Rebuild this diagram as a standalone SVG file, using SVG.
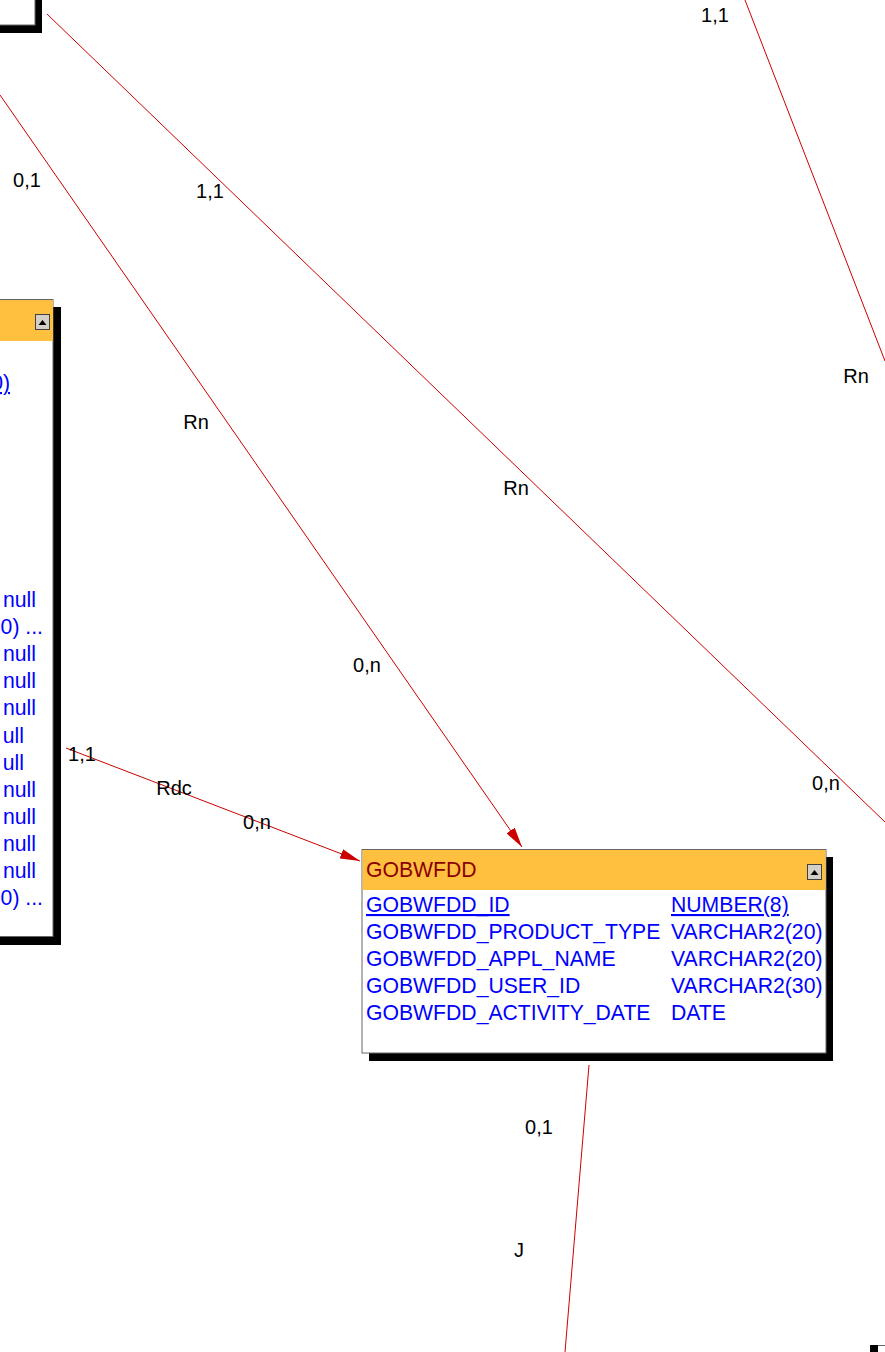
<svg xmlns="http://www.w3.org/2000/svg" width="885" height="1352" viewBox="0 0 885 1352">
<style>
.lbl{font-family:"Liberation Sans",Arial,sans-serif;font-size:20px;fill:#000;text-anchor:middle}
.t{font-family:"Liberation Sans",Arial,sans-serif;font-size:21.2px;fill:#0000ff}
.hdr{font-family:"Liberation Sans",Arial,sans-serif;font-size:21.2px;fill:#8b0000}
.u{text-decoration:underline}
.conn{stroke:#cc0000;stroke-width:1;fill:none}
.shadow{fill:#000}
.box{fill:#fff;stroke:#666;stroke-width:1}
.head{fill:#ffc040}
.btn{fill:#d4d0c8;stroke:#404040;stroke-width:1}
</style>
<defs>
<marker id="arr" viewBox="0 0 20 10" refX="20" refY="5" markerWidth="20" markerHeight="10" markerUnits="userSpaceOnUse" orient="auto">
<path d="M0,0 L20,5 L0,10 z" fill="#cc0000"/>
</marker>
</defs>

<g id="connectors">
<line class="conn" x1="47" y1="14" x2="885" y2="822"/>
<line class="conn" x1="0" y1="95" x2="522" y2="847" marker-end="url(#arr)"/>
<line class="conn" x1="66" y1="748" x2="360" y2="861" marker-end="url(#arr)"/>
<line class="conn" x1="745" y1="0" x2="885" y2="361"/>
<line class="conn" x1="589" y1="1065" x2="565" y2="1352"/>
<text class="lbl" x="715" y="22">1,1</text>
<text class="lbl" x="27" y="187">0,1</text>
<text class="lbl" x="210" y="198">1,1</text>
<text class="lbl" x="856" y="383">Rn</text>
<text class="lbl" x="196" y="429">Rn</text>
<text class="lbl" x="516" y="495">Rn</text>
<text class="lbl" x="367" y="672">0,n</text>
<text class="lbl" x="82" y="761">1,1</text>
<text class="lbl" x="826" y="790">0,n</text>
<text class="lbl" x="174" y="795">Rdc</text>
<text class="lbl" x="257" y="829">0,n</text>
<text class="lbl" x="539" y="1134">0,1</text>
<text class="lbl" x="519" y="1257">J</text>
</g>

<g id="node-topleft">
<rect class="shadow" x="-3" y="-3" width="45" height="36"/>
<rect class="box" x="-10" y="-10" width="45" height="35"/>
</g>

<g id="node-left">
<rect class="shadow" x="-10" y="307" width="71" height="638"/>
<rect class="box" x="-20" y="299.5" width="73" height="637"/>
<rect class="head" x="-20" y="300" width="73" height="41"/>
<rect class="btn" x="35.5" y="314.5" width="14" height="15"/>
<path d="M38.5,325 L42.5,320 L46.5,325 z" fill="#000"/>
<text class="t u" x="10" y="390" text-anchor="end">0)</text>
<text class="t" x="36" y="607" text-anchor="end">null</text>
<text class="t" x="43" y="634" text-anchor="end">0) ...</text>
<text class="t" x="36" y="661" text-anchor="end">null</text>
<text class="t" x="36" y="688" text-anchor="end">null</text>
<text class="t" x="36" y="715" text-anchor="end">null</text>
<text class="t" x="24" y="743" text-anchor="end">ull</text>
<text class="t" x="24" y="770" text-anchor="end">ull</text>
<text class="t" x="36" y="797" text-anchor="end">null</text>
<text class="t" x="36" y="824" text-anchor="end">null</text>
<text class="t" x="36" y="851" text-anchor="end">null</text>
<text class="t" x="36" y="878" text-anchor="end">null</text>
<text class="t" x="43" y="905" text-anchor="end">0) ...</text>
</g>

<g id="node-gobwfdd">
<rect class="shadow" x="369" y="857" width="464" height="204"/>
<rect class="box" x="362" y="849.5" width="464" height="203.5"/>
<rect class="head" x="362.5" y="850" width="463" height="40"/>
<rect class="btn" x="807.5" y="864.5" width="14" height="15"/>
<path d="M810.5,875 L814.5,870 L818.5,875 z" fill="#000"/>
<text class="hdr" x="366" y="877">GOBWFDD</text>
<text class="t u" x="366" y="912">GOBWFDD_ID</text>
<text class="t u" x="671" y="912">NUMBER(8)</text>
<text class="t" x="366" y="939">GOBWFDD_PRODUCT_TYPE</text>
<text class="t" x="671" y="939">VARCHAR2(20)</text>
<text class="t" x="366" y="966">GOBWFDD_APPL_NAME</text>
<text class="t" x="671" y="966">VARCHAR2(20)</text>
<text class="t" x="366" y="993">GOBWFDD_USER_ID</text>
<text class="t" x="671" y="993">VARCHAR2(30)</text>
<text class="t" x="366" y="1020">GOBWFDD_ACTIVITY_DATE</text>
<text class="t" x="671" y="1020">DATE</text>
</g>

<g id="node-bottomright">
<rect class="shadow" x="870" y="1345" width="8" height="7"/>
<line x1="878" y1="1345.5" x2="885" y2="1345.5" stroke="#666" stroke-width="1"/>
</g>
</svg>
